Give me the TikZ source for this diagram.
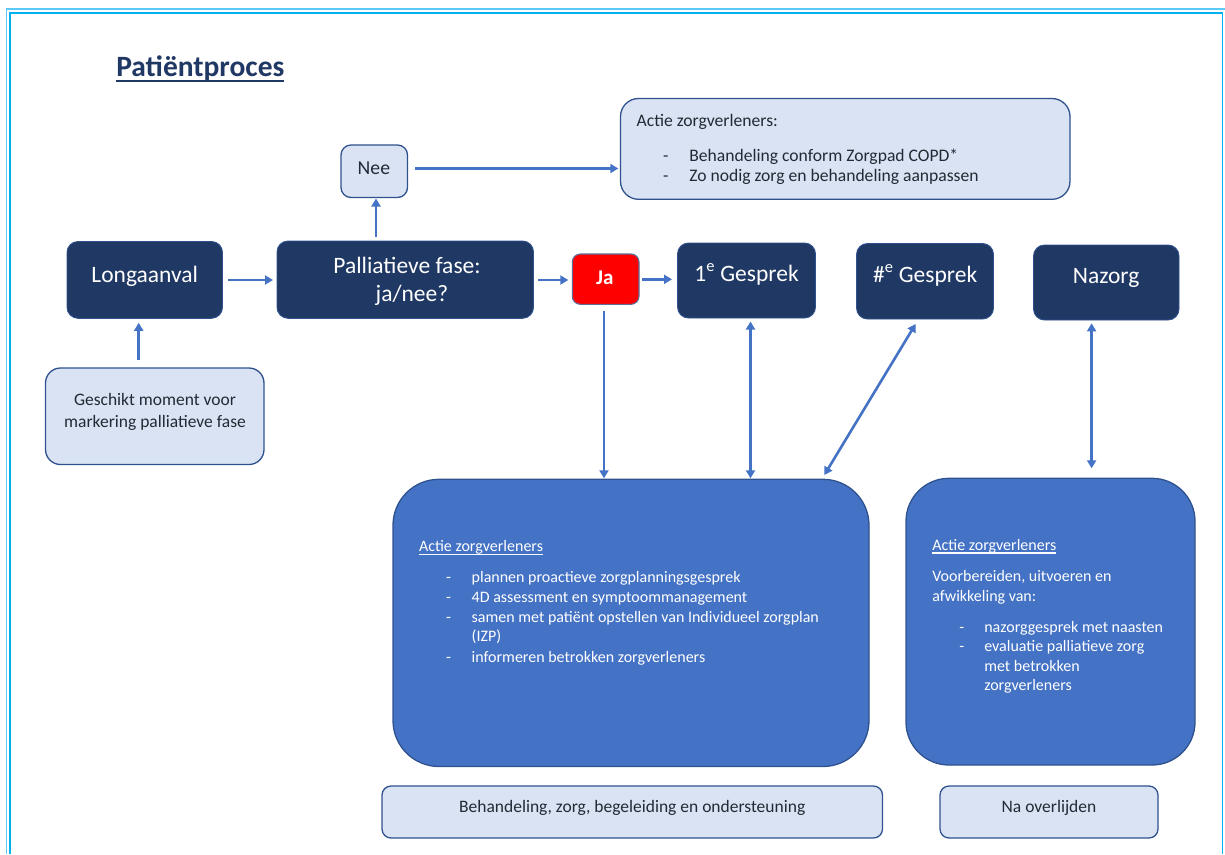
\documentclass[tikz,border=0pt]{standalone}
\usepackage{fontspec}
\setmainfont{Carlito}
\usetikzlibrary{arrows.meta,calc}
\definecolor{navy}{HTML}{203864}
\definecolor{accent}{HTML}{4472C4}
\definecolor{bordblue}{HTML}{2F528F}
\definecolor{lightfill}{HTML}{DAE3F3}
\definecolor{darktext}{HTML}{222A35}
\definecolor{framein}{HTML}{00B0F0}
\definecolor{frameout}{HTML}{5CC8F5}
\definecolor{jared}{HTML}{FF0000}
\definecolor{jaborder}{HTML}{5B6E99}
\newcommand{\ulc}[3]{\setbox0\hbox{#3}\rlap{\rule[#1]{\wd0}{#2}}\box0}
\newcommand{\itm}[2]{\makebox[#1][l]{-}#2}
\tikzset{
  box/.style={inner sep=0pt, outer sep=0pt},
  darkbox/.style={box, draw=bordblue, line width=0.9pt, fill=navy, rounded corners=11pt},
  lightbox/.style={box, draw=bordblue, line width=1.3pt, fill=lightfill, rounded corners=10pt},
  bigbox/.style={box, draw=bordblue, line width=1.3pt, fill=accent, rounded corners=46pt},
  redbox/.style={box, draw=jaborder, line width=1.1pt, fill=jared, rounded corners=8pt},
  lbl/.style={inner sep=0pt, outer sep=0pt, anchor=base},
  lblw/.style={inner sep=0pt, outer sep=0pt, anchor=base west},
  darklbl/.style={lbl, text=white, font=\fontsize{23.5}{28}\selectfont},
  lightlbl/.style={lbl, text=darktext, font=\fontsize{17.5}{21}\selectfont},
  toplbl/.style={lblw, text=darktext, font=\fontsize{17.6}{21}\selectfont},
  bluelbl/.style={lblw, text=white, font=\fontsize{16}{19.5}\selectfont},
  arr/.style={draw=accent, line width=2.6pt, -{Triangle[length=8pt,width=9pt]}},
  darr/.style={draw=accent, line width=2.6pt, {Triangle[length=8pt,width=9pt]}-{Triangle[length=8pt,width=9pt]}},
}
\begin{document}
\begin{tikzpicture}[x=1pt,y=-1pt]
\useasboundingbox (0,0) rectangle (1225,854);
% frame
\draw[frameout, line width=1.2pt] (6.7,854) -- (6.7,9) -- (1225,9);
\draw[framein, line width=1.8pt] (10.3,854) -- (10.3,12.8) -- (1222.5,12.8) -- (1222.5,854);
% title
\node[lblw, text=navy, font=\bfseries\fontsize{29.5}{35}\selectfont] (title) at (116.3,76) {\ulc{-6pt}{2.3pt}{Patiëntproces}};
% boxes
\node[darkbox, minimum width=155.5pt, minimum height=76.8pt] (lung) at (144.75,279.9) {};
\node[darkbox, minimum width=256.5pt, minimum height=77.3pt] (pall) at (405.25,279.65) {};
\node[lightbox, minimum width=66.5pt, minimum height=52.5pt] (nee) at (374.25,171.25) {};
\node[lightbox, rounded corners=18pt, minimum width=449.5pt, minimum height=100.8pt] (top) at (845.25,148.9) {};
\node[redbox, minimum width=66.7pt, minimum height=50.3pt] (ja) at (605.65,279.15) {};
\node[darkbox, minimum width=138pt, minimum height=75pt] (ge1) at (746.5,280.5) {};
\node[darkbox, minimum width=137pt, minimum height=75.5pt] (gen) at (925,281.25) {};
\node[darkbox, minimum width=145.5pt, minimum height=75pt] (naz) at (1106.25,282.5) {};
\node[lightbox, rounded corners=15pt, minimum width=218.5pt, minimum height=96.5pt] (gesch) at (154.75,416.25) {};
\node[bigbox, minimum width=476pt, minimum height=287.2pt] (big1) at (631,622.9) {};
\node[bigbox, rounded corners=43pt, minimum width=289pt, minimum height=286.7pt] (big2) at (1050.5,621.65) {};
\node[lightbox, rounded corners=9pt, minimum width=500.5pt, minimum height=52pt] (bot1) at (632.25,812) {};
\node[lightbox, rounded corners=9pt, minimum width=218pt, minimum height=52pt] (bot2) at (1049,812) {};
% labels
\node[darklbl] (lungT) at (144.8,282) {Longaanval};
\node[darklbl] (pallT1) at (407,273.7) {Palliatieve fase:};
\node[darklbl] (pallT2) at (412,301.7) {ja/nee?};
\node[lbl, text=white, font=\bfseries\fontsize{21}{25}\selectfont] (jaT) at (604.8,284.3) {Ja};
\node[darklbl] (ge1T) at (746.6,281) {1\textsuperscript{e} Gesprek};
\node[darklbl] (genT) at (925.2,282) {\#\textsuperscript{e} Gesprek};
\node[darklbl] (nazT) at (1106.1,283.5) {Nazorg};
\node[lbl, text=darktext, font=\fontsize{19.7}{24}\selectfont] (neeT) at (373.9,174) {Nee};
\node[toplbl] (topT1) at (636.7,126) {Actie zorgverleners:};
\node[toplbl] (topT2) at (663,161) {\itm{26.3pt}{Behandeling conform Zorgpad COPD*}};
\node[toplbl] (topT3) at (663,181.5) {\itm{26.3pt}{Zo nodig zorg en behandeling aanpassen}};
\node[lightlbl] (geschT1) at (155,405.5) {Geschikt moment voor};
\node[lightlbl] (geschT2) at (155,427) {markering palliatieve fase};
\node[bluelbl] (b1h) at (419,551.5) {\ulc{-3.5pt}{1.1pt}{Actie zorgverleners}};
\node[bluelbl] (b1i1) at (446,582.7) {\itm{25.7pt}{plannen proactieve zorgplanningsgesprek}};
\node[bluelbl] (b1i2) at (446,602.3) {\itm{25.7pt}{4D assessment en symptoommanagement}};
\node[bluelbl] (b1i3) at (446,622.3) {\itm{25.7pt}{samen met patiënt opstellen van Individueel zorgplan}};
\node[bluelbl] (b1i3b) at (471.7,641.7) {(IZP)};
\node[bluelbl] (b1i4) at (446,662) {\itm{25.7pt}{informeren betrokken zorgverleners}};
\node[bluelbl] (b2h) at (932.3,550) {\ulc{-3.5pt}{1.1pt}{Actie zorgverleners}};
\node[bluelbl] (b2l1) at (932.3,581.5) {Voorbereiden, uitvoeren en};
\node[bluelbl] (b2l2) at (932.3,601) {afwikkeling van:};
\node[bluelbl] (b2i1) at (959.3,632) {\itm{25pt}{nazorggesprek met naasten}};
\node[bluelbl] (b2i2) at (959.3,651.7) {\itm{25pt}{evaluatie palliatieve zorg}};
\node[bluelbl] (b2i2b) at (984.3,671.3) {met betrokken};
\node[bluelbl] (b2i2c) at (984.3,690.8) {zorgverleners};
\node[lightlbl] (bot1T) at (632.2,812) {Behandeling, zorg, begeleiding en ondersteuning};
\node[lightlbl] (bot2T) at (1049,812) {Na overlijden};
% helper coordinates for connector lines
\coordinate (xg) at (138.7,0);
\coordinate (xn) at (376,0);
\coordinate (yn) at (0,168.5);
\coordinate (yp) at (0,280);
\coordinate (yj) at (0,279.3);
\coordinate (xj) at (604,0);
\coordinate (x1) at (750.5,0);
\coordinate (xz) at (1091.6,0);
% connectors
\draw[arr, shorten <=5.5pt, shorten >=4pt] (lung.east |- yp) -- (pall.west |- yp);
\draw[arr, shorten <=8pt, shorten >=4.5pt] (gesch.north -| xg) -- (lung.south -| xg);
\draw[arr, shorten <=4pt, shorten >=1pt] (pall.north -| xn) -- (nee.south -| xn);
\draw[arr, shorten <=7.5pt, shorten >=2.2pt] (nee.east |- yn) -- (top.west |- yn);
\draw[arr, shorten <=4.5pt, shorten >=4pt] (pall.east |- yp) -- (ja.west |- yp);
\draw[arr, shorten <=3pt, shorten >=5.5pt] (ja.east |- yj) -- (ge1.west |- yj);
\draw[arr, shorten <=6.5pt, shorten >=1pt] (ja.south -| xj) -- (big1.north -| xj);
\draw[darr, shorten <=3.5pt, shorten >=1pt] (ge1.south -| x1) -- (big1.north -| x1);
\draw[darr] ($(gen.south)+(-9.4,5)$) -- ($(big1.north east)+(-44.7,-4.3)$);
\draw[darr, shorten <=3.3pt, shorten >=10pt] (naz.south -| xz) -- (big2.north -| xz);
\end{tikzpicture}
\end{document}
